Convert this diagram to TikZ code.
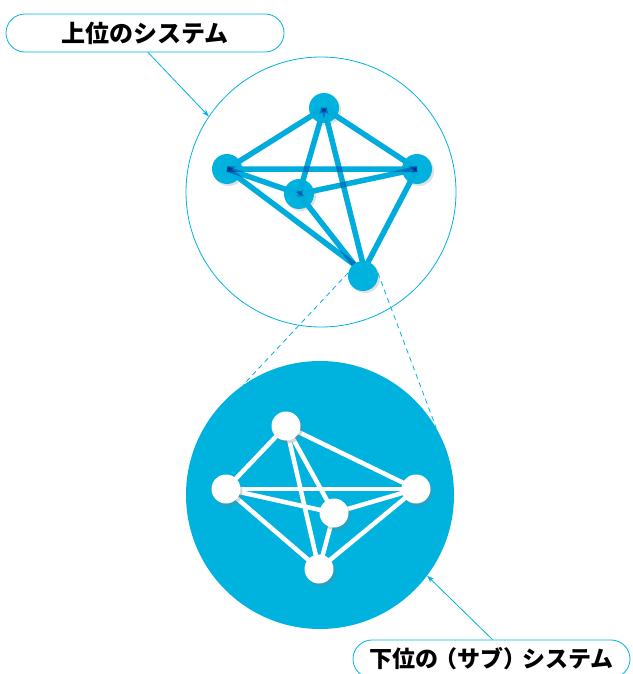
\documentclass[tikz,border=0pt]{standalone}
\usepackage{fontspec}
\newfontfamily\cjk{Noto Sans CJK JP}[BoldFont={Noto Sans CJK JP Black}]
\usetikzlibrary{arrows.meta,shadows,shapes.misc}
\definecolor{sky}{RGB}{0,178,222}
\definecolor{skyline}{RGB}{0,172,220}
\begin{document}
\begin{tikzpicture}[x=1pt,y=-1pt,
  lbl/.style={draw=sky,line width=0.8pt,rounded rectangle,inner sep=0pt,minimum height=38pt,text=black},
  tnode/.style={circle,fill=sky,inner sep=0pt,minimum size=30pt,drop shadow={shadow xshift=2pt,shadow yshift=-2pt,opacity=0.25}},
  bnode/.style={circle,fill=white,inner sep=0pt,minimum size=29pt,drop shadow={shadow xshift=2pt,shadow yshift=-3pt,opacity=0.3}},
  tedge/.style={draw=skyline,line width=5.5pt},
  bedge/.style={draw=white,line width=4.5pt},
  dashline/.style={draw=sky,line width=0.8pt,dash pattern=on 5pt off 4pt},
  pointer/.style={draw=sky,line width=0.8pt,-{Stealth[length=7pt,width=5pt]}}
]
\useasboundingbox (0,0) rectangle (632,674);
% labels
\node[lbl,minimum width=278pt,font=\cjk\bfseries\fontsize{24}{24}\selectfont] (tlabel) at (145,33) {上位のシステム};
\node[lbl,minimum width=277pt,font=\cjk\bfseries\fontsize{23}{23}\selectfont] (blabel) at (491.5,659) {下位の\kern-4pt（サブ）\kern-4pt システム};
% circles
\node[circle,draw=sky,line width=0.8pt,inner sep=0pt,minimum size=270pt] (tc) at (321,192) {};
\node[circle,fill=sky,inner sep=0pt,minimum size=268pt] (bc) at (320,495) {};
% top system nodes
\node[tnode] (ta) at (324,108) {};
\node[tnode] (tl) at (227,169) {};
\node[tnode] (tr) at (417,169) {};
\node[tnode] (tm) at (299,194) {};
\begin{scope}[blend group=multiply]
\draw[tedge] (ta.center) -- (tl.center);
\draw[tedge] (ta.center) -- (tr.center);
\draw[tedge] (ta.center) -- (tm.center);
\draw[tedge] (ta.center) -- (364,268);
\draw[tedge] (tl.center) -- (tr.center);
\draw[tedge] (tl.center) -- (tm.center);
\draw[tedge] (tl.center) -- (356,266);
\draw[tedge] (tm.center) -- (tr.center);
\draw[tedge] (tm.center) -- (357,268);
\draw[tedge] (tr.center) -- (366,266);
\end{scope}
\node[tnode] (tb) at (363,276) {};
% dashed projection lines
\draw[dashline] (tb.168) -- (bc.125);
\draw[dashline] (tb.12) -- (bc.30);
% bottom system
\coordinate (ba) at (286,426);
\coordinate (bl) at (226,489);
\coordinate (br) at (416,489);
\coordinate (bm) at (334,513);
\coordinate (bb) at (319,569);
\draw[bedge] (ba) -- (bl);
\draw[bedge] (ba) -- (br);
\draw[bedge] (ba) -- (bm);
\draw[bedge] (ba) -- (bb);
\draw[bedge] (bl) -- (br);
\draw[bedge] (bl) -- (bm);
\draw[bedge] (bl) -- (bb);
\draw[bedge] (bm) -- (br);
\draw[bedge] (bm) -- (bb);
\draw[bedge] (br) -- (bb);
\node[bnode] (na) at (ba) {};
\node[bnode] (nl) at (bl) {};
\node[bnode] (nr) at (br) {};
\node[bnode] (nm) at (bm) {};
\node[bnode] (nb) at (bb) {};
% pointers
\draw[pointer] ([xshift=3pt]tlabel.south) -- (tc.146);
\draw[pointer] ([xshift=1pt]blabel.north) -- (bc.-37);
\end{tikzpicture}
\end{document}
